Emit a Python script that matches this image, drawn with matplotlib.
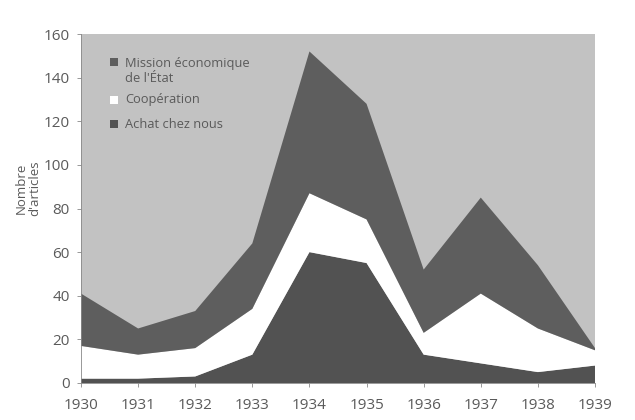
import matplotlib
matplotlib.use("Agg")
import matplotlib.pyplot as plt
from matplotlib.patches import Rectangle

years = [1930, 1931, 1932, 1933, 1934, 1935, 1936, 1937, 1938, 1939]
achat = [2, 2, 3, 13, 60, 55, 13, 9, 5, 8]
cooperation = [15, 11, 13, 21, 27, 20, 10, 32, 20, 7]
mission = [24, 12, 17, 30, 65, 53, 29, 44, 29, 1]
labels = ["Mission économique\nde l'État", "Coopération", "Achat chez nous"]
yticks = [0, 20, 40, 60, 80, 100, 120, 140, 160]

plt.rcParams['font.family'] = ['Open Sans', 'DejaVu Sans']
txt = '#5a5a5a'
c_bg = '#c2c2c2'
c_mission = '#5e5e5e'
c_coop = '#ffffff'
c_achat = '#525252'

fig = plt.figure(figsize=(6.35, 4.2), dpi=100)
ax = fig.add_axes([81/635, (420-383)/420, (595-81)/635, (383-34)/420])
ax.set_facecolor(c_bg)
ax.stackplot(years, achat, cooperation, mission,
             colors=[c_achat, c_coop, c_mission], linewidth=0)
ax.set_xlim(1930, 1939)
ax.set_ylim(0, 160)
ax.set_xticks(years)
ax.set_yticks(yticks)
ax.tick_params(colors='#888888', labelcolor=txt, labelsize=11, length=3, width=0.6)
ax.tick_params(axis='x', pad=8)
ax.tick_params(axis='y', pad=5)
for s in ['top', 'right']:
    ax.spines[s].set_visible(False)
for s in ['left', 'bottom']:
    ax.spines[s].set_color('#888888')
    ax.spines[s].set_linewidth(0.6)

fig.text(28/635, 1 - 188/420, "Nombre\nd'articles", rotation=90, ha='center', va='center',
         color=txt, fontsize=9.5, linespacing=1.0)

# legend
entries = [(62, c_mission, labels[0]), (100, c_coop, labels[1]), (124, c_achat, labels[2])]
for ypix, col, lab in entries:
    fig.patches.append(Rectangle((110/635, 1 - (ypix + 4)/420), 8/635, 8/420,
                                 transform=fig.transFigure, facecolor=col, edgecolor='none'))
    if '\n' in lab:
        fig.text(125/635, 1 - (ypix + 9)/420, lab, ha='left', va='center',
                 color=txt, fontsize=9.3, linespacing=1.3)
    else:
        fig.text(125/635, 1 - ypix/420, lab, ha='left', va='center',
                 color=txt, fontsize=9.3)

fig.savefig('out.png', dpi=100)
